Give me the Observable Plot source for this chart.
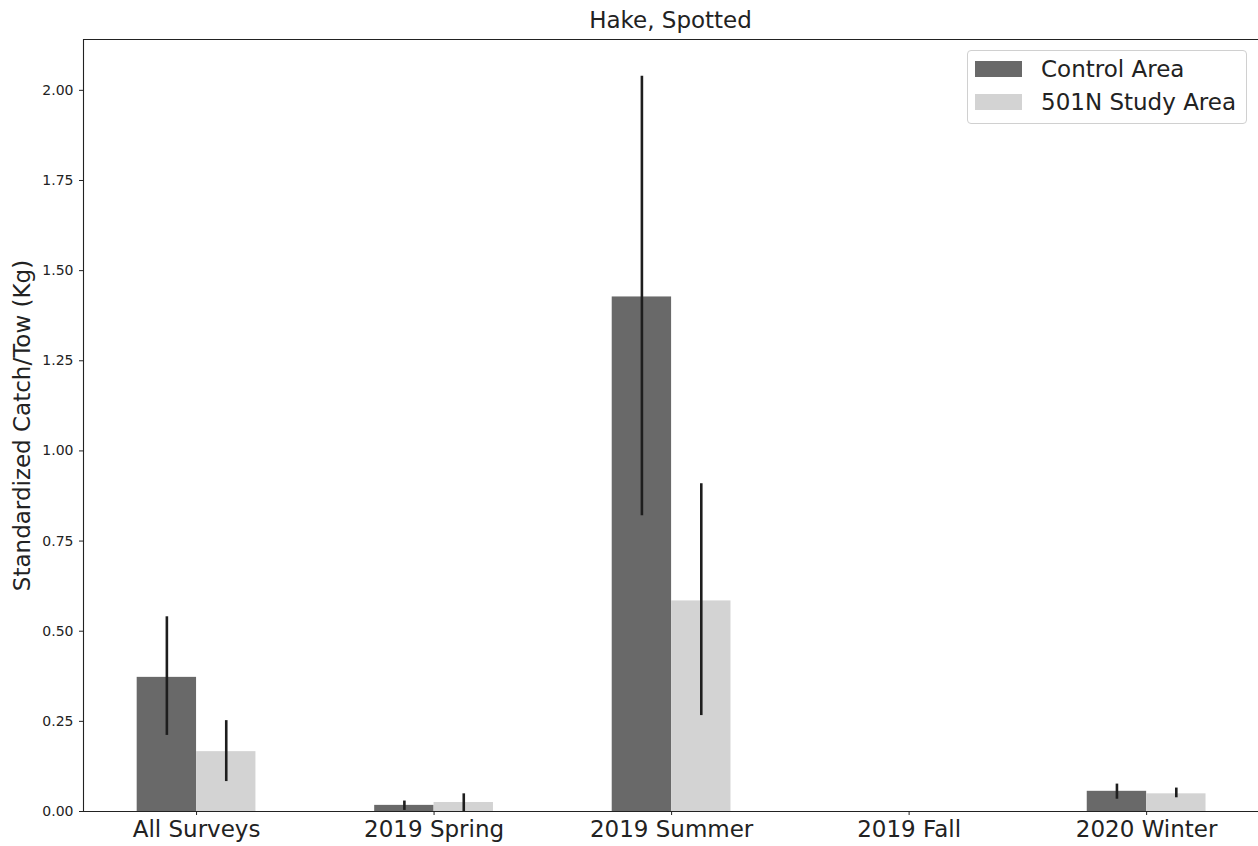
<!DOCTYPE html>
<html>
<head>
<meta charset="utf-8">
<script src="https://cdn.jsdelivr.net/npm/d3@7"></script>
<script src="https://cdn.jsdelivr.net/npm/@observablehq/plot@0.6"></script>
<style>
  html, body { margin: 0; padding: 0; background: #fff; }
  body { font-family: "DejaVu Sans", sans-serif; color: #222; }
  #wrap { position: relative; width: 1258px; height: 846px; overflow: hidden; }
  #title { position: absolute; left: 83px; width: 1175px; top: 0; height: 39px; line-height: 41px; text-align: center; font-size: 23px; }
  #chart { position: absolute; left: 0; top: 34px; }
  #legend { position: absolute; left: 967px; top: 50px; width: 280px; height: 74px; border: 1px solid #d0d0d0; border-radius: 4px; background: rgba(255,255,255,0.8); box-sizing: border-box; }
  .row { position: absolute; left: 7px; height: 26px; display: flex; align-items: center; font-size: 23px; white-space: nowrap; }
  .sw { width: 47px; height: 16px; margin-right: 19px; }
</style>
</head>
<body>
<div id="wrap">
  <div id="title">Hake, Spotted</div>
  <div id="chart"></div>
  <div id="legend"></div>
</div>
<script>
const categories = ["All Surveys", "2019 Spring", "2019 Summer", "2019 Fall", "2020 Winter"];
const seriesNames = ["Control Area", "501N Study Area"];
const seriesColors = ["#696969", "#d3d3d3"];
const controlMean = [0.372, 0.017, 1.427, 0, 0.056];
const controlLow  = [0.211, 0.003, 0.820, 0, 0.034];
const controlHigh = [0.540, 0.029, 2.039, 0, 0.076];
const studyMean   = [0.166, 0.025, 0.584, 0, 0.049];
const studyLow    = [0.083, 0.000, 0.266, 0, 0.038];
const studyHigh   = [0.252, 0.049, 0.909, 0, 0.065];
const yTicks = [0, 0.25, 0.5, 0.75, 1.0, 1.25, 1.5, 1.75, 2.0];

const barWidth = 0.25;
const rows = [];
categories.forEach((c, i) => {
  rows.push({i, series: seriesNames[0], x1: i - barWidth, x2: i, mean: controlMean[i], low: controlLow[i], high: controlHigh[i]});
  rows.push({i, series: seriesNames[1], x1: i, x2: i + barWidth, mean: studyMean[i], low: studyLow[i], high: studyHigh[i]});
});
const xDomain = [-0.476, 4.471];
const yDomain = [0, 2.141];

const ink = "#222";
const chart = Plot.plot({
  width: 1258,
  height: 812,
  marginLeft: 83,
  marginRight: 0,
  marginTop: 5,
  marginBottom: 35,
  style: {fontFamily: "DejaVu Sans, sans-serif", color: ink, background: "#fff"},
  x: {type: "linear", domain: xDomain},
  y: {domain: yDomain},
  color: {domain: seriesNames, range: seriesColors},
  marks: [
    Plot.rectY(rows, {x1: "x1", x2: "x2", y1: 0, y2: "mean", fill: "series"}),
    Plot.ruleX(rows, {x: d => (d.x1 + d.x2) / 2, y1: "low", y2: "high", stroke: "#1e1e1e", strokeWidth: 2.6}),
    Plot.ruleY([yDomain[0]], {stroke: ink, strokeWidth: 1.1}),
    Plot.ruleY([yDomain[1]], {stroke: ink, strokeWidth: 1.1}),
    Plot.ruleX([xDomain[0]], {stroke: ink, strokeWidth: 1.1}),
    Plot.axisY({ticks: yTicks, tickFormat: d => d.toFixed(2), tickSize: 4, tickPadding: 6, fontSize: 14, label: null, stroke: ink}),
    Plot.axisX({ticks: d3.range(categories.length), tickFormat: i => categories[i], tickSize: 4, tickPadding: 5, fontSize: 23, label: null, stroke: ink}),
    Plot.text(["Standardized Catch/Tow (Kg)"], {frameAnchor: "left", textAnchor: "middle", rotate: -90, dx: -61, fontSize: 23, fill: ink})
  ]
});
document.getElementById("chart").appendChild(chart);

const legend = document.getElementById("legend");
seriesNames.forEach((name, k) => {
  const row = document.createElement("div");
  row.className = "row";
  row.style.top = (5 + k * 33) + "px";
  const sw = document.createElement("div");
  sw.className = "sw";
  sw.style.background = seriesColors[k];
  const lab = document.createElement("span");
  lab.textContent = name;
  row.appendChild(sw);
  row.appendChild(lab);
  legend.appendChild(row);
});
</script>
</body>
</html>
